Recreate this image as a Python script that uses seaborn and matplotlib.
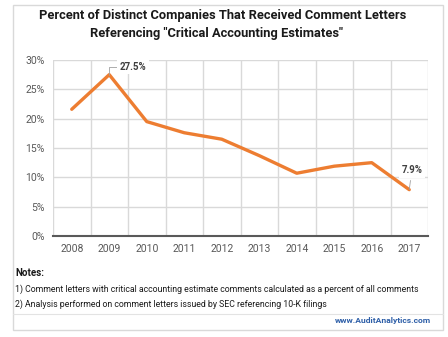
import numpy as np
import pandas as pd
import matplotlib
matplotlib.use("Agg")
import matplotlib.pyplot as plt
from matplotlib.patches import Rectangle
from matplotlib.lines import Line2D
import seaborn as sns

years = ["2008", "2009", "2010", "2011", "2012", "2013", "2014", "2015", "2016", "2017"]
pct = [21.6, 27.5, 19.5, 17.6, 16.5, 13.7, 10.7, 11.9, 12.5, 7.9]
yticks = [0, 5, 10, 15, 20, 25, 30]
title_lines = ['Percent of Distinct Companies That Received Comment Letters',
               'Referencing "Critical Accounting Estimates"']
notes = ["1) Comment letters with critical accounting estimate comments calculated as a percent of all comments",
         "2) Analysis performed on comment letters issued by SEC referencing 10-K filings"]

sns.set_theme(style="white")
plt.rcParams['font.family'] = ['Roboto', 'DejaVu Sans']

W, H = 448, 337
fig = plt.figure(figsize=(W / 100, H / 100), dpi=100)
fig.patch.set_facecolor("white")
renderer = fig.canvas.get_renderer()

def fx(px):
    return px / W

def fy(py):
    return 1 - py / H

def fit(t, target_px):
    w = t.get_window_extent(renderer).width
    t.set_fontsize(t.get_fontsize() * target_px / w)
    return t

# outer frame
fig.patches.append(Rectangle((fx(13), fy(330)), fx(443) - fx(13), fy(5) - fy(330),
                             transform=fig.transFigure, fill=False, ec="#d9d9d9", lw=1.0))
fig.lines.append(Line2D([fx(13), fx(443)], [fy(314), fy(314)], transform=fig.transFigure,
                        color="#e3e3e3", lw=0.8))

ax = fig.add_axes([fx(53), fy(236), fx(428) - fx(53), fy(60) - fy(236)])
df = pd.DataFrame({"x": np.arange(len(years)), "y": pct})
sns.lineplot(data=df, x="x", y="y", ax=ax, color="#ED7D31", lw=2.4)

ax.set_xlim(-0.5, len(years) - 0.5)
ax.set_ylim(0, 30)
ax.set_yticks(yticks)
ax.set_yticklabels([f"{v}%" for v in yticks], fontsize=7.5, color="#595959")
ax.set_xticks(np.arange(len(years)))
ax.set_xticklabels(years, fontsize=7.5, color="#595959")
ax.set_xticks(np.arange(len(years) + 1) - 0.5, minor=True)
ax.tick_params(axis="both", which="both", length=0, pad=6)
ax.grid(False)
ax.yaxis.grid(True, color="#d9d9d9", lw=1.0)
ax.xaxis.grid(True, which="minor", color="#d9d9d9", lw=1.0)
for s in ["top", "right", "left"]:
    ax.spines[s].set_visible(False)
ax.spines["bottom"].set_color("#595959")
ax.spines["bottom"].set_linewidth(1.5)
ax.set_xlabel("")
ax.set_ylabel("")

# annotations
ax.annotate("27.5%", xy=(1, pct[1]), xytext=(1.28, 28.8), fontsize=7, fontweight="bold",
            color="#404040", va="center", ha="left",
            bbox=dict(boxstyle="square,pad=0.25", fc="white", ec="none"),
            arrowprops=dict(arrowstyle="-", color="#a0a0a0", lw=0.6, shrinkA=0, shrinkB=0,
                            connectionstyle="angle,angleA=0,angleB=90,rad=0"))
ax.annotate("7.9%", xy=(9, pct[9]), xytext=(9.07, 11.2), fontsize=7, fontweight="bold",
            color="#404040", va="center", ha="center",
            bbox=dict(boxstyle="square,pad=0.25", fc="white", ec="none"),
            arrowprops=dict(arrowstyle="-", color="#a0a0a0", lw=0.6, shrinkB=0))

t1 = fig.text(fx(223), fy(16), title_lines[0], ha="center", va="center", fontsize=10,
              fontweight="bold", color="#1a1a1a")
fit(t1, 366)
fig.text(fx(216), fy(34), title_lines[1], ha="center", va="center", fontsize=t1.get_fontsize(),
         fontweight="bold", color="#1a1a1a")

fig.text(fx(15), fy(273), "Notes:", fontsize=7, fontweight="bold", color="#1a1a1a", va="center")
n1 = fig.text(fx(15), fy(289), notes[0], fontsize=6.5, color="#1a1a1a", va="center")
fit(n1, 405)
fig.text(fx(15), fy(304), notes[1], fontsize=n1.get_fontsize(), color="#1a1a1a", va="center")
w = fig.text(fx(431), fy(321), "www.AuditAnalytics.com", fontsize=6.5, fontweight="bold",
             color="#2e5fa8", ha="right", va="center")
fit(w, 95)

fig.savefig("out.png", dpi=100, facecolor="white")
